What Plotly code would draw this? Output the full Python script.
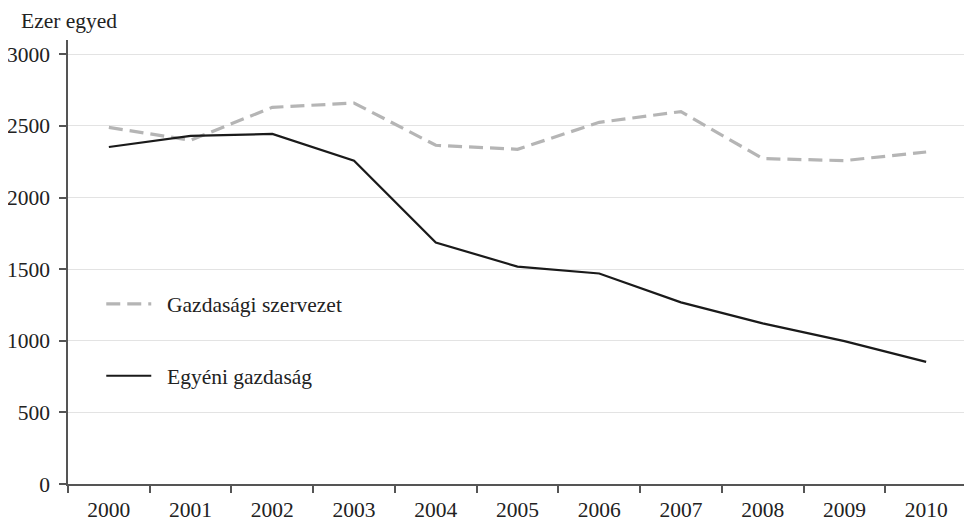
import plotly.graph_objects as go

years = ["2000", "2001", "2002", "2003", "2004", "2005", "2006", "2007", "2008", "2009", "2010"]
gazdasagi = [2490, 2400, 2630, 2660, 2365, 2337, 2525, 2600, 2272, 2258, 2318]
egyeni = [2353, 2430, 2444, 2258, 1686, 1518, 1470, 1268, 1121, 998, 853]
y_ticks = [0, 500, 1000, 1500, 2000, 2500, 3000]
series_names = ["Gazdasági szervezet", "Egyéni gazdaság"]

FONT = "Liberation Serif"
FS = 21.5
GAP = "\u00a0\u00a0"

fig = go.Figure()
fig.add_trace(go.Scatter(
    x=years, y=gazdasagi, mode="lines", name=GAP + series_names[0],
    line=dict(color="#b5b5b5", width=3.2, dash="14px,7px"),
    legendgroup="g1",
))
fig.add_trace(go.Scatter(
    x=years, y=egyeni, mode="lines", name=GAP + series_names[1],
    line=dict(color="#1a1a1a", width=2.2),
    legendgroup="g2",
))

fig.update_layout(
    width=972, height=522,
    margin=dict(l=60, r=13, t=32, b=46),
    paper_bgcolor="white", plot_bgcolor="white",
    font=dict(family=FONT, size=FS, color="#222"),
    showlegend=True,
    legend=dict(
        x=0.037, y=0.452, xanchor="left", yanchor="top",
        bgcolor="rgba(0,0,0,0)", tracegroupgap=41,
        font=dict(family=FONT, size=FS, color="#222"),
        itemwidth=45,
    ),
    xaxis=dict(
        type="category", tickson="boundaries",
        range=[-0.5, 10.5], automargin=False,
        showline=True, linecolor="#555", linewidth=1.5,
        ticks="outside", ticklen=7, tickcolor="#555", tickwidth=1.5,
        showgrid=False, zeroline=False, ticklabelstandoff=5,
        tickfont=dict(family=FONT, size=FS, color="#222"),
    ),
    yaxis=dict(
        range=[0, 3100], tickvals=y_ticks, automargin=False,
        showline=True, linecolor="#555", linewidth=1.5,
        ticks="outside", ticklen=7, tickcolor="#555", tickwidth=1.5,
        showgrid=True, gridcolor="#e3e3e3", gridwidth=1.2,
        zeroline=False, ticklabelstandoff=5,
        tickfont=dict(family=FONT, size=FS, color="#222"),
    ),
    annotations=[dict(
        text="Ezer egyed", xref="paper", yref="paper",
        x=0.0556, y=1.072, xanchor="right", yanchor="top", showarrow=False,
        borderpad=0,
        font=dict(family=FONT, size=FS, color="#222"),
    )],
)

fig.write_html("out.html")
